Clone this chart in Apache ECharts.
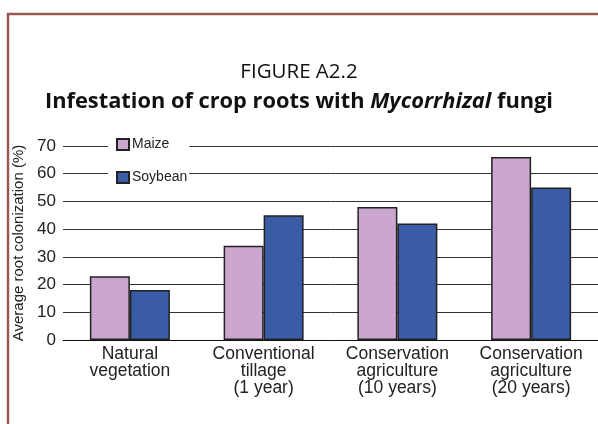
<!DOCTYPE html>
<html>
<head>
<meta charset="utf-8">
<script src="https://cdn.jsdelivr.net/npm/echarts@6/dist/echarts.min.js"></script>
<style>
  html, body { margin: 0; padding: 0; background: #fff; }
  #chart { width: 598px; height: 424px; }
</style>
</head>
<body>
<div id="chart"></div>
<script>
// Root colonization (%) by land-management system
const categories = [
  'Natural\nvegetation',
  'Conventional\ntillage\n(1 year)',
  'Conservation\nagriculture\n(10 years)',
  'Conservation\nagriculture\n(20 years)'
];
const maize = [23, 34, 48, 66];
const soybean = [18, 45, 42, 55];
const yTicks = [0, 10, 20, 30, 40, 50, 60, 70];

const chart = echarts.init(document.getElementById('chart'), null, { renderer: 'canvas' });

const sans = '"Liberation Sans", Arial, sans-serif';
const humanist = '"Open Sans", "Noto Sans", sans-serif';

chart.setOption({
  backgroundColor: '#ffffff',
  animation: false,
  title: [
    {
      text: 'FIGURE A2.2',
      left: 'center',
      top: 57,
      textStyle: { fontFamily: humanist, fontWeight: 'normal', fontSize: 20.5, color: '#111' }
    },
    {
      text: '{b|Infestation of crop roots with }{i|Mycorrhizal}{b| fungi}',
      left: 'center',
      top: 86,
      textStyle: {
        rich: {
          b: { fontFamily: humanist, fontWeight: 'bold', fontSize: 21.8, color: '#111' },
          i: { fontFamily: humanist, fontWeight: 'bold', fontStyle: 'italic', fontSize: 21.8, color: '#111' }
        }
      }
    }
  ],
  legend: {
    orient: 'vertical',
    left: 108,
    top: 134,
    padding: [2, 2, 2, 8],
    backgroundColor: '#ffffff',
    itemWidth: 12,
    itemHeight: 11,
    itemGap: 16,
    icon: 'rect',
    textStyle: { fontFamily: sans, fontSize: 14, color: '#222', padding: [0, 0, 0, -2], lineHeight: 17 },
    data: ['Maize', 'Soybean']
  },
  grid: { left: 63, top: 146, width: 542, height: 194, containLabel: false },
  xAxis: {
    type: 'category',
    data: categories,
    axisLine: { show: true, lineStyle: { color: '#111', width: 1 } },
    axisTick: { show: false },
    axisLabel: {
      margin: 6,
      fontFamily: sans,
      fontSize: 17.5,
      lineHeight: 17,
      color: '#222',
      interval: 0
    }
  },
  yAxis: {
    type: 'value',
    min: yTicks[0],
    max: yTicks[yTicks.length - 1],
    interval: 10,
    name: 'Average root colonization (%)',
    nameLocation: 'middle',
    nameGap: 35,
    nameTextStyle: { fontFamily: sans, fontSize: 15, color: '#222' },
    axisLine: { show: false },
    axisTick: { show: false },
    axisLabel: { margin: 7, fontFamily: sans, fontSize: 17, color: '#222' },
    splitLine: { show: true, lineStyle: { color: '#333', width: 1 } }
  },
  series: [
    {
      name: 'Maize',
      type: 'bar',
      data: maize,
      barWidth: 40,
      barGap: '0%',
      itemStyle: { color: '#cba6cf', borderColor: '#222', borderWidth: 1.5 }
    },
    {
      name: 'Soybean',
      type: 'bar',
      data: soybean,
      barWidth: 40,
      barGap: '0%',
      itemStyle: { color: '#3a5ba6', borderColor: '#222', borderWidth: 1.5 }
    }
  ],
  graphic: [
    {
      type: 'rect',
      z: 100,
      shape: { x: 8, y: 14, width: 700, height: 500 },
      style: { fill: 'none', stroke: '#98594f', lineWidth: 2.5 }
    }
  ]
});
</script>
</body>
</html>
